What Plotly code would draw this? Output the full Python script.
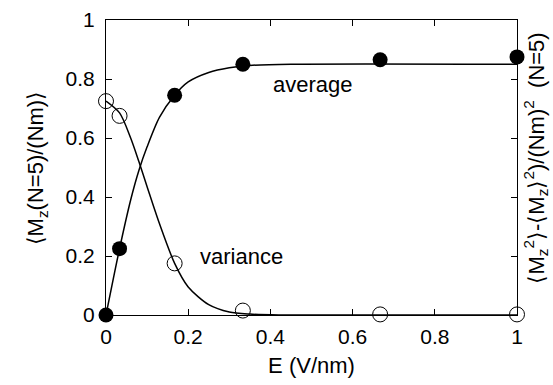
import plotly.graph_objects as go

# measured points
E_pts = [0, 0.033, 0.167, 0.333, 0.667, 1.0]
avg_pts = [0.0, 0.225, 0.745, 0.85, 0.865, 0.875]
var_pts = [0.725, 0.675, 0.175, 0.015, 0.002, 0.002]

# fitted curves
avg_curve_x = [0, 0.033, 0.06, 0.08, 0.1, 0.13, 0.167, 0.2, 0.25, 0.3, 0.35, 0.45, 1.0]
avg_curve_y = [0, 0.225, 0.39, 0.49, 0.57, 0.67, 0.745, 0.79, 0.822, 0.838, 0.846, 0.85, 0.85]
var_curve_x = [0, 0.033, 0.06, 0.08, 0.1, 0.13, 0.167, 0.2, 0.25, 0.3, 0.35, 0.42, 1.0]
var_curve_y = [0.725, 0.685, 0.6, 0.52, 0.435, 0.31, 0.175, 0.095, 0.035, 0.01, 0.003, 0.0, 0.0]

x_ticks = [0, 0.2, 0.4, 0.6, 0.8, 1]
x_tick_labels = ["0", "0.2", "0.4", "0.6", "0.8", "1"]
y_ticks = [0, 0.2, 0.4, 0.6, 0.8, 1]
y_tick_labels = ["0", "0.2", "0.4", "0.6", "0.8", "1"]

FAM = "Liberation Sans, Arial, sans-serif"
font = dict(family=FAM, size=21, color="black")
tfont = dict(family=FAM, size=22, color="black")
rfont = dict(family=FAM, size=22, color="black")

fig = go.Figure()
fig.add_trace(go.Scatter(x=avg_curve_x, y=avg_curve_y, mode="lines",
                         line=dict(color="black", width=1.5, shape="spline", smoothing=0.8),
                         showlegend=False, hoverinfo="skip"))
fig.add_trace(go.Scatter(x=var_curve_x, y=var_curve_y, mode="lines",
                         line=dict(color="black", width=1.5, shape="spline", smoothing=0.8),
                         showlegend=False, hoverinfo="skip"))
fig.add_trace(go.Scatter(x=E_pts, y=avg_pts, mode="markers",
                         marker=dict(symbol="circle", size=15, color="black"),
                         cliponaxis=False, showlegend=False))
fig.add_trace(go.Scatter(x=E_pts, y=var_pts, mode="markers",
                         marker=dict(symbol="circle-open", size=15, color="black", line=dict(width=1)),
                         cliponaxis=False, showlegend=False))
# dummy trace for right axis
fig.add_trace(go.Scatter(x=[None], y=[None], yaxis="y2", showlegend=False))

fig.add_annotation(x=0.504, y=0.78, text="average", showarrow=False, font=tfont)
fig.add_annotation(x=0.33, y=0.198, text="variance", showarrow=False, font=tfont)

# y-axis titles as rotated annotations
fig.add_annotation(xref="paper", yref="paper", x=-0.168, y=0.5, textangle=-90,
                   xanchor="center", yanchor="middle",
                   text="⟨M<sub>z</sub>(N=5)/(Nm)⟩", showarrow=False, font=tfont)
fig.add_annotation(xref="paper", yref="paper", x=1.045, y=0.532, textangle=-90,
                   xanchor="center", yanchor="middle",
                   text="⟨M<sub>z</sub><sup>2</sup>⟩-⟨M<sub>z</sub>⟩<sup>2</sup>)/(Nm)<sup>2</sup>  (N=5)",
                   showarrow=False, font=rfont)

axis_common = dict(showgrid=False, zeroline=False, showline=True, linecolor="black",
                   linewidth=1, ticks="inside", ticklen=6, tickcolor="black", automargin=False)

fig.update_layout(
    width=553, height=385,
    margin=dict(l=106, r=36, t=20, b=70),
    paper_bgcolor="white", plot_bgcolor="white",
    font=font,
    xaxis=dict(range=[0, 1], tickvals=x_ticks, ticktext=x_tick_labels, mirror="ticks",
               title=dict(text="E (V/nm)", font=tfont, standoff=10), ticklabelstandoff=3,
               tickfont=font, **axis_common),
    yaxis=dict(range=[0, 1], tickvals=y_ticks, ticktext=y_tick_labels, mirror="ticks",
               ticklabelstandoff=6, tickfont=font, **axis_common),
    yaxis2=dict(range=[0, 1], overlaying="y", side="right", showticklabels=False,
                tickvals=y_ticks, **axis_common),
)

fig.write_html("out.html")
